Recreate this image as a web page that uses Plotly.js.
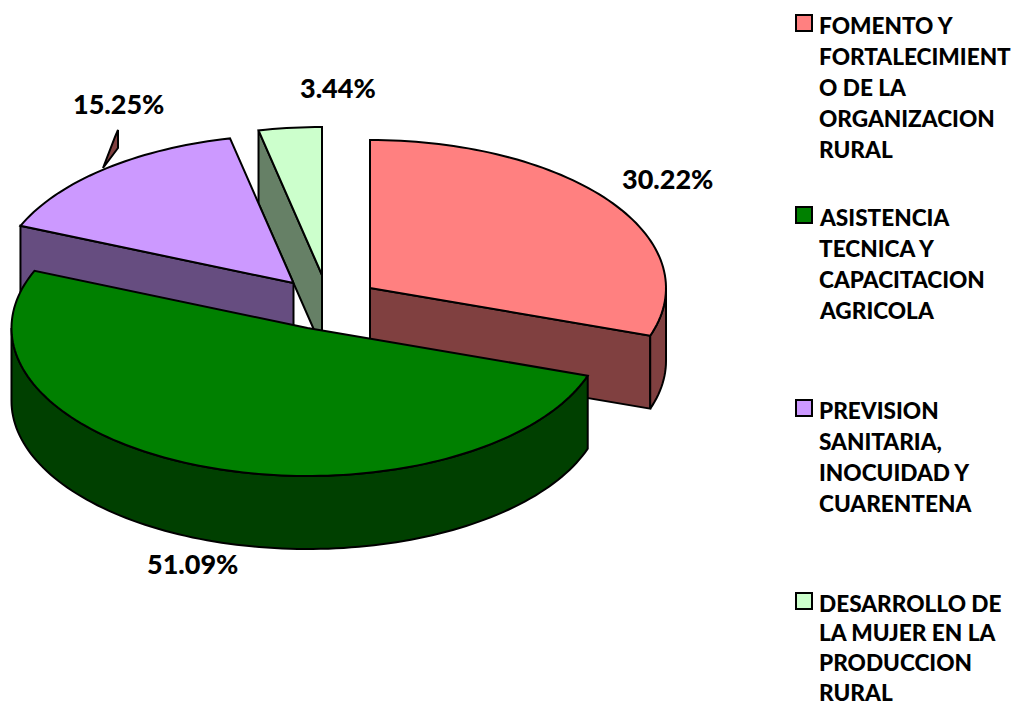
<!DOCTYPE html>
<html>
<head>
<meta charset="utf-8">
<script src="https://cdn.plot.ly/plotly-3.0.1.min.js"></script>
<style>html,body{margin:0;padding:0;background:#fff}#chart{width:1014px;height:706px}</style>
</head>
<body>
<div id="chart"></div>
<script>
// Data
var categories = ["FOMENTO Y FORTALECIMIENTO DE LA ORGANIZACION RURAL",
  "ASISTENCIA TECNICA Y CAPACITACION AGRICOLA",
  "PREVISION SANITARIA, INOCUIDAD Y CUARENTENA",
  "DESARROLLO DE LA MUJER EN LA PRODUCCION RURAL"];
var values = [30.22, 51.09, 15.25, 3.44];
var legendLines = [
  ["FOMENTO Y", "FORTALECIMIENT", "O DE LA", "ORGANIZACION", "RURAL"],
  ["ASISTENCIA", "TECNICA Y", "CAPACITACION", "AGRICOLA"],
  ["PREVISION", "SANITARIA,", "INOCUIDAD Y", "CUARENTENA"],
  ["DESARROLLO DE", "LA MUJER EN LA", "PRODUCCION", "RURAL"]
];

// Styles
var topColors  = ["#FF8080", "#008000", "#CC99FF", "#CCFFCC"];
var sideColors = ["#804040", "#004000", "#664D80", "#668066"];
var FONT = "Lato, Carlito, sans-serif";
var centers = [[370, 288], [307.5, 328], [293.5, 283], [322, 275]];
var RX = 296, RY = 148, DEPTH = 73;
var legendFirstY = [25, 217, 410, 603];
var legendStep = [31, 31, 31, 29.8];
var labelPos = [[667, 178], [192, 563], [118, 103], [338, 87]];

// Slice angles from values (clockwise from 12 o'clock)
var starts = [], ends = [], acc = 0, total = values.reduce(function(a, b){return a + b;}, 0);
values.forEach(function(v){ starts.push(acc); acc += v / total * 360; ends.push(acc); });

function pt(i, deg, dy){
  var r = deg * Math.PI / 180;
  return [centers[i][0] + RX * Math.sin(r), centers[i][1] - RY * Math.cos(r) + (dy || 0)];
}
function arc(i, a, b, dy){
  var out = [], n = Math.max(2, Math.ceil(Math.abs(b - a) / 1.5));
  for (var k = 0; k <= n; k++) out.push(pt(i, a + (b - a) * k / n, dy));
  return out;
}
function poly(points, color, name){
  var x = points.map(function(p){return p[0];}), y = points.map(function(p){return p[1];});
  x.push(x[0]); y.push(y[0]);
  return {type: "scatter", mode: "lines", x: x, y: y, fill: "toself", fillcolor: color,
          line: {color: "#000", width: 2, simplify: false}, name: name, hoverinfo: "skip", showlegend: false};
}
function topFace(i){
  return poly([centers[i]].concat(arc(i, starts[i], ends[i])), topColors[i], categories[i]);
}
function cutFace(i, deg){
  var c = centers[i], e = pt(i, deg);
  return poly([c, e, [e[0], e[1] + DEPTH], [c[0], c[1] + DEPTH]], sideColors[i], categories[i]);
}
function rimFace(i, a, b){
  return poly(arc(i, a, b).concat(arc(i, b, a, DEPTH)), sideColors[i], categories[i]);
}

var traces = [
  cutFace(0, ends[0]),
  rimFace(0, 90, ends[0]),
  topFace(0),
  cutFace(3, starts[3]),
  topFace(3),
  cutFace(2, starts[2]),
  topFace(2),
  rimFace(1, starts[1], 270),
  topFace(1)
];

// Labels as text from values
var annotations = [];
values.forEach(function(v, i){
  annotations.push({xref: "x", yref: "y", x: labelPos[i][0], y: labelPos[i][1], text: v.toFixed(2) + "%",
    showarrow: false, xanchor: "center", yanchor: "middle",
    font: {family: FONT, size: 27, color: "#000", weight: 900}});
});

// Legend
var shapes = [];
legendLines.forEach(function(lines, i){
  var y0 = legendFirstY[i];
  shapes.push({type: "rect", xref: "x", yref: "y", x0: 796, x1: 812, y0: y0 - 10, y1: y0 + 6,
    fillcolor: topColors[i], line: {color: "#000", width: 2}});
  lines.forEach(function(t, k){
    annotations.push({xref: "x", yref: "y", x: 817, y: y0 + k * legendStep[i], text: t,
      showarrow: false, xanchor: "left", yanchor: "middle",
      font: {family: FONT, size: 22.6, color: "#000", weight: 900}});
  });
});

// Small leader sliver next to the purple slice
shapes.push({type: "path", xref: "x", yref: "y", path: "M118,130 L118,148 L103,168 L115,137 Z",
  fillcolor: "#804040", line: {color: "#000", width: 2}});

var layout = {
  width: 1014, height: 706,
  margin: {l: 0, r: 0, t: 0, b: 0, pad: 0},
  paper_bgcolor: "#fff", plot_bgcolor: "#fff",
  showlegend: false, hovermode: false,
  xaxis: {range: [0, 1014], visible: false, fixedrange: true},
  yaxis: {range: [706, 0], visible: false, fixedrange: true},
  annotations: annotations, shapes: shapes
};
Plotly.newPlot("chart", traces, layout, {displayModeBar: false, staticPlot: true});
</script>
</body>
</html>
